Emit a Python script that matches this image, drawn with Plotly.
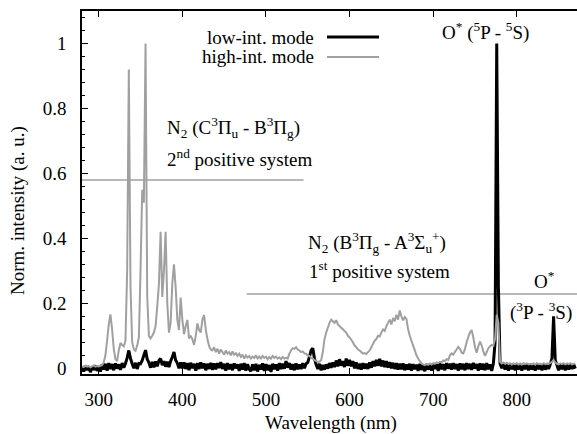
import plotly.graph_objects as go

# ---------------- data ----------------
WL_START, WL_STOP, WL_STEP = 280, 870, 2
WAVELENGTH = list(range(WL_START, WL_STOP + 1, WL_STEP))

LOW_INT = [
    0.004, -0.010, 0.008, -0.006, 0.006, -0.012, 0.005, -0.005, 0.009, -0.008,   # 280
    0.006, -0.010, 0.012, -0.004, 0.014, -0.007, 0.016, -0.002, 0.013, -0.006,   # 300
    0.015, -0.001, 0.012, -0.005, 0.016, 0.002, 0.015, 0.032, 0.055, 0.030,      # 320
    0.014, 0.000, 0.017, -0.002, 0.015, 0.014, 0.024, 0.040, 0.056, 0.028,       # 340
    0.018, 0.002, 0.020, 0.003, 0.021, 0.006, 0.024, 0.030, 0.010, 0.022,        # 360
    0.005, 0.020, 0.004, 0.022, 0.035, 0.050, 0.025, 0.016, 0.000, 0.018,        # 380
    0.000, 0.018, -0.002, 0.016, -0.006, 0.017, 0.000, 0.014, -0.007, 0.016,     # 400
    -0.002, 0.018, 0.000, 0.015, -0.006, 0.014, -0.002, 0.017, -0.005, 0.015,    # 420
    -0.003, 0.016, 0.001, 0.019, -0.002, 0.014, -0.007, 0.016, -0.003, 0.013,    # 440
    -0.006, 0.015, 0.000, 0.012, -0.008, 0.014, -0.004, 0.016, -0.007, 0.013,    # 460
    -0.003, -0.009, 0.012, -0.006, 0.014, -0.010, 0.011, -0.004, 0.015, -0.008,  # 480
    0.013, -0.006, 0.010, -0.011, 0.014, -0.003, 0.012, -0.007, 0.016, -0.002,   # 500
    0.014, -0.001, 0.022, 0.002, 0.016, -0.004, 0.013, -0.006, 0.015, -0.003,    # 520
    0.012, -0.002, 0.016, 0.000, 0.014, 0.018, 0.035, 0.055, 0.062, 0.030,       # 540
    0.012, -0.002, 0.014, -0.006, 0.010, -0.004, 0.012, -0.001, 0.016, 0.002,    # 560
    0.018, 0.004, 0.024, 0.006, 0.028, 0.008, 0.022, 0.004, 0.030, 0.008,        # 580
    0.026, 0.006, 0.022, 0.000, 0.018, -0.002, 0.014, -0.004, 0.016, -0.001,     # 600
    0.014, -0.002, 0.018, 0.002, 0.022, 0.006, 0.026, 0.008, 0.029, 0.006,       # 620
    0.024, 0.004, 0.022, 0.002, 0.019, 0.000, 0.017, -0.002, 0.016, -0.004,      # 640
    0.014, -0.003, 0.015, -0.006, 0.012, -0.004, 0.014, -0.007, 0.013, -0.003,   # 660
    0.011, -0.008, 0.014, -0.005, 0.010, -0.009, 0.013, -0.004, 0.012, -0.007,   # 680
    0.014, -0.002, 0.012, -0.008, 0.015, -0.003, 0.013, -0.006, 0.016, -0.001,   # 700
    0.014, -0.004, 0.016, -0.002, 0.013, -0.007, 0.015, -0.003, 0.014, -0.006,   # 720
    0.016, -0.002, 0.014, -0.005, 0.017, -0.001, 0.013, -0.007, 0.015, -0.004,   # 740
    0.014, -0.006, 0.016, -0.003, 0.012, -0.008, 0.015, 0.080, 1.000, 0.250,     # 760
    0.014, 0.000, 0.014, -0.004, 0.012, -0.007, 0.013, -0.003, 0.011, -0.006,    # 780
    0.012, -0.004, 0.014, -0.007, 0.010, -0.003, 0.013, -0.006, 0.012, -0.004,   # 800
    0.011, -0.007, 0.013, -0.003, 0.012, -0.006, 0.014, -0.004, 0.010, -0.002,   # 820
    0.012, 0.030, 0.160, 0.025, 0.010, -0.006, 0.013, -0.003, 0.012, -0.006,     # 840
    0.013, -0.004, 0.014, -0.002, 0.012, -0.001,                                 # 860
]

HIGH_INT = [
    0.006, 0.004, 0.008, 0.005, 0.007, 0.003, 0.006, 0.009, 0.005, 0.007,   # 280
    0.006, 0.008, 0.010, 0.018, 0.040, 0.085, 0.135, 0.166, 0.120, 0.060,   # 300
    0.028, 0.022, 0.055, 0.078, 0.072, 0.068, 0.085, 0.300, 0.920, 0.250,   # 320
    0.080, 0.058, 0.054, 0.070, 0.095, 0.300, 0.550, 0.510, 1.000, 0.220,   # 340
    0.100, 0.092, 0.100, 0.110, 0.130, 0.190, 0.260, 0.420, 0.220, 0.300,   # 360
    0.420, 0.200, 0.110, 0.140, 0.260, 0.320, 0.250, 0.150, 0.118, 0.218,   # 380
    0.150, 0.105, 0.130, 0.149, 0.092, 0.100, 0.090, 0.072, 0.100, 0.138,   # 400
    0.118, 0.110, 0.150, 0.164, 0.120, 0.090, 0.068, 0.058, 0.055, 0.065,   # 420
    0.050, 0.060, 0.045, 0.058, 0.050, 0.042, 0.055, 0.045, 0.050, 0.040,   # 440
    0.052, 0.040, 0.048, 0.038, 0.045, 0.035, 0.042, 0.030, 0.040, 0.033,   # 460
    0.038, 0.030, 0.036, 0.032, 0.040, 0.030, 0.036, 0.030, 0.038, 0.032,   # 480
    0.036, 0.028, 0.035, 0.030, 0.038, 0.032, 0.036, 0.030, 0.034, 0.028,   # 500
    0.035, 0.030, 0.032, 0.030, 0.045, 0.055, 0.062, 0.060, 0.065, 0.058,   # 520
    0.055, 0.050, 0.052, 0.046, 0.045, 0.040, 0.038, 0.032, 0.030, 0.025,   # 540
    0.022, 0.020, 0.020, 0.025, 0.050, 0.090, 0.110, 0.125, 0.140, 0.150,   # 560
    0.145, 0.140, 0.148, 0.135, 0.130, 0.125, 0.120, 0.115, 0.110, 0.100,   # 580
    0.095, 0.088, 0.080, 0.070, 0.065, 0.058, 0.055, 0.050, 0.045, 0.047,   # 600
    0.044, 0.050, 0.055, 0.065, 0.075, 0.085, 0.090, 0.100, 0.098, 0.110,   # 620
    0.120, 0.115, 0.130, 0.140, 0.150, 0.135, 0.155, 0.145, 0.165, 0.150,   # 640
    0.178, 0.160, 0.148, 0.158, 0.152, 0.120, 0.100, 0.085, 0.070, 0.055,   # 660
    0.040, 0.030, 0.022, 0.015, 0.012, 0.010, 0.013, 0.011, 0.015, 0.012,   # 680
    0.016, 0.014, 0.018, 0.016, 0.020, 0.018, 0.024, 0.022, 0.028, 0.026,   # 700
    0.040, 0.046, 0.042, 0.050, 0.058, 0.066, 0.060, 0.048, 0.046, 0.060,   # 720
    0.080, 0.097, 0.110, 0.118, 0.095, 0.065, 0.048, 0.068, 0.082, 0.070,   # 740
    0.052, 0.038, 0.050, 0.062, 0.068, 0.072, 0.070, 0.090, 0.165, 0.140,   # 760
    0.020, 0.015, 0.018, 0.014, 0.017, 0.013, 0.016, 0.012, 0.015, 0.013,   # 780
    0.016, 0.012, 0.015, 0.011, 0.016, 0.013, 0.015, 0.012, 0.014, 0.012,   # 800
    0.015, 0.011, 0.016, 0.013, 0.014, 0.012, 0.016, 0.013, 0.015, 0.014,   # 820
    0.016, 0.020, 0.026, 0.018, 0.014, 0.012, 0.015, 0.013, 0.016, 0.012,   # 840
    0.015, 0.013, 0.016, 0.012, 0.014, 0.015,                               # 860
]

SERIES_NAMES = ["low-int. mode", "high-int. mode"]
Y_TICKS = [0, 0.2, 0.4, 0.6, 0.8, 1]
X_TICKS = [300, 400, 500, 600, 700, 800]

# separator lines under the band labels (wavelength from, to, level)
SEP_2ND = (280, 545, 0.58)
SEP_1ST = (477, 872, 0.229)

assert len(LOW_INT) == len(WAVELENGTH) == len(HIGH_INT)

# ---------------- figure ----------------
W, H = 577, 434
ML, MR, MT, MB = 82, 0, 11, 60
PW, PH = W - ML - MR, H - MT - MB
FONT = "Liberation Serif"
FS = 19
GRAY = "#a0a0a0"


def px(x):
    return (x - ML) / PW


def py(y):
    return (H - MB - y) / PH


fig = go.Figure()
fig.add_trace(go.Scatter(x=WAVELENGTH, y=LOW_INT, mode="lines", name=SERIES_NAMES[0],
                         line=dict(color="black", width=3, simplify=False), showlegend=False))
fig.add_trace(go.Scatter(x=WAVELENGTH, y=HIGH_INT, mode="lines", name=SERIES_NAMES[1],
                         line=dict(color=GRAY, width=2, simplify=False), showlegend=False))

shapes = []
for (x0, x1, yv) in (SEP_2ND, SEP_1ST):
    shapes.append(dict(type="line", xref="x", yref="y", x0=x0, x1=x1, y0=yv, y1=yv,
                       line=dict(color=GRAY, width=1.5), layer="below"))
# legend samples
shapes.append(dict(type="line", xref="paper", yref="paper", x0=px(327), x1=px(379),
                   y0=py(37), y1=py(37), line=dict(color="black", width=3)))
shapes.append(dict(type="line", xref="paper", yref="paper", x0=px(327), x1=px(379),
                   y0=py(57), y1=py(57), line=dict(color=GRAY, width=2)))

ann = []


def add(text, x, y, xanchor="center", angle=0):
    ann.append(dict(text=text, x=px(x), y=py(y), xref="paper", yref="paper",
                    xanchor=xanchor, yanchor="middle", showarrow=False, textangle=angle,
                    font=dict(family=FONT, size=FS, color="black")))


add(SERIES_NAMES[0], 316, 38, "right")
add(SERIES_NAMES[1], 316, 57, "right")
add("O<sup>*</sup> (<sup>5</sup>P - <sup>5</sup>S)", 440, 31, "left")
add("N<sub>2</sub> (C<sup>3</sup>Π<sub>u</sub> - B<sup>3</sup>Π<sub>g</sub>)", 165, 127, "left")
add("2<sup>nd</sup> positive system", 165, 158, "left")
add("N<sub>2</sub> (B<sup>3</sup>Π<sub>g</sub> - A<sup>3</sup>Σ<sub>u</sub><sup>+</sup>)", 306, 242, "left")
add("1<sup>st</sup> positive system", 307, 270, "left")
add("O<sup>*</sup>", 544, 280, "center")
add("(<sup>3</sup>P - <sup>3</sup>S)", 508, 311, "left")
add("Norm. intensity (a. u.)", 18, 211, "center", -90)
add("Wavelength (nm)", 331, 423, "center")

fig.update_layout(
    width=W, height=H,
    margin=dict(l=ML, r=MR, t=MT, b=MB, pad=0),
    paper_bgcolor="white", plot_bgcolor="white",
    font=dict(family=FONT, size=FS, color="black"),
    shapes=shapes, annotations=ann, showlegend=False,
    xaxis=dict(range=[280, 872], tickvals=X_TICKS, ticks="inside", ticklen=6,
               tickwidth=1, tickcolor="black", showline=True, linecolor="black",
               linewidth=1.5, mirror="ticks", showgrid=False, zeroline=False,
               tickfont=dict(family=FONT, size=FS), ticklabelstandoff=7),
    yaxis=dict(range=[-0.0175, 1.1], tickvals=Y_TICKS, ticks="inside", ticklen=6,
               tickwidth=1, tickcolor="black", showline=True, linecolor="black",
               linewidth=1.5, mirror=False, showgrid=False, zeroline=False,
               tickfont=dict(family=FONT, size=FS), ticklabelstandoff=10,
               minor=dict(dtick=0.04, ticks="inside", ticklen=3, tickcolor="black",
                          showgrid=False)),
)

fig.write_html("out.html")
